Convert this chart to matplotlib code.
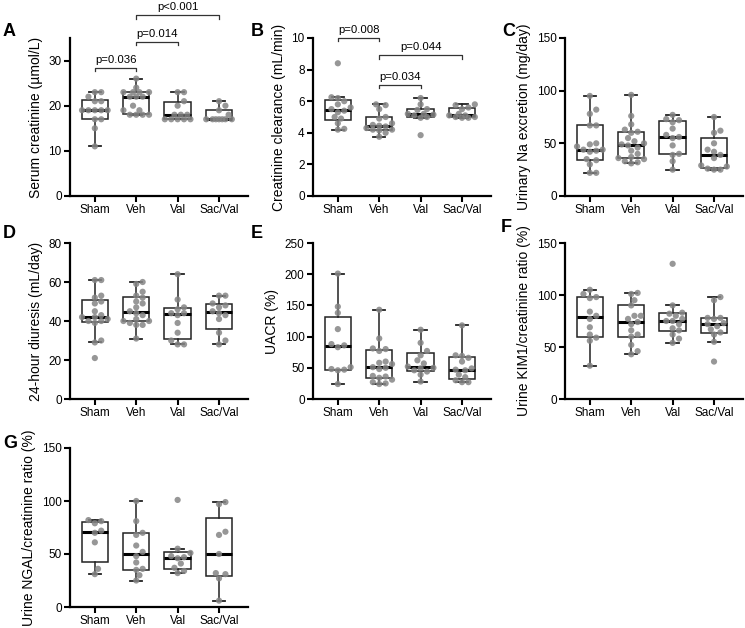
import numpy as np
import matplotlib
matplotlib.use('Agg')
import matplotlib.pyplot as plt

plt.rcParams['font.family'] = ['Liberation Sans', 'DejaVu Sans']

groups = ['Sham', 'Veh', 'Val', 'Sac/Val']

# A - serum creatinine (umol/L)
scr_sham = [23, 23, 22, 21, 21, 19, 19, 19, 19, 19, 17, 17, 15, 11]
scr_veh = [26, 24, 23, 23, 23, 23, 22, 22, 22, 20, 19, 19, 18, 18, 18, 18]
scr_val = [23, 23, 21, 20, 18, 18, 18, 17, 17, 17, 17, 17]
scr_sac = [21, 20, 19, 18, 17, 17, 17, 17, 17, 17, 17]

# B - creatinine clearance (mL/min)
ccl_sham = [8.4, 6.25, 6.2, 6.0, 5.8, 5.6, 5.5, 5.4, 5.3, 5.0, 4.9, 4.6, 4.25, 4.2]
ccl_veh = [5.8, 5.75, 5.5, 5.0, 4.9, 4.6, 4.5, 4.45, 4.4, 4.3, 4.2, 4.2, 4.15, 4.0, 3.75]
ccl_val = [6.2, 5.8, 5.5, 5.45, 5.2, 5.2, 5.15, 5.1, 5.0, 4.95, 3.85]
ccl_sac = [5.8, 5.75, 5.6, 5.5, 5.2, 5.1, 5.1, 5.0, 5.0, 4.95, 4.95]

# C - urinary Na excretion (mg/day)
na_sham = [95, 82, 78, 67, 67, 50, 49, 47, 44, 44, 43, 42, 35, 34, 30, 22, 22]
na_veh = [96, 76, 68, 63, 61, 60, 55, 52, 50, 49, 48, 46, 43, 40, 37, 36, 35, 33, 32, 31]
na_val = [77, 73, 72, 70, 64, 58, 56, 55, 48, 40, 39, 33, 25]
na_sac = [75, 62, 60, 50, 44, 42, 39, 36, 29, 28, 26, 25, 25]

# D - 24-hour diuresis (mL/day)
diu_sham = [61, 61, 53, 52, 50, 49, 45, 43, 42, 42, 41, 40, 40, 39, 30, 29, 21]
diu_veh = [60, 59, 55, 53, 52, 50, 49, 47, 45, 44, 43, 41, 40, 40, 39, 38, 38, 31]
diu_val = [64, 51, 47, 46, 44, 44, 43, 39, 34, 30, 28, 28]
diu_sac = [53, 53, 49, 48, 47, 45, 44, 43, 41, 34, 30, 28]

# E - UACR (%)
uacr_sham = [201, 148, 138, 112, 88, 86, 83, 51, 48, 47, 46, 24]
uacr_veh = [143, 97, 81, 80, 77, 60, 58, 56, 51, 50, 48, 37, 36, 34, 31, 27, 25, 24]
uacr_val = [111, 90, 77, 70, 62, 57, 52, 50, 49, 46, 44, 39, 28]
uacr_sac = [118, 70, 69, 66, 60, 49, 47, 46, 39, 35, 30, 27, 27]

# F - urine KIM1/creatinine ratio (%)
kim_sham = [105, 101, 98, 97, 84, 80, 77, 69, 62, 59, 56, 32]
kim_veh = [102, 101, 95, 90, 80, 80, 77, 74, 72, 66, 62, 60, 52, 46, 43]
kim_val = [130, 90, 83, 82, 80, 77, 75, 75, 72, 68, 66, 62, 58, 54]
kim_sac = [98, 95, 78, 78, 77, 73, 72, 70, 67, 64, 62, 55, 36]

# G - urine NGAL/creatinine ratio (%)
ngal_sham = [82, 81, 79, 72, 70, 61, 36, 31]
ngal_veh = [100, 81, 70, 68, 58, 52, 48, 42, 36, 35, 30, 25]
ngal_val = [101, 55, 51, 48, 47, 46, 41, 37, 34, 32]
ngal_sac = [99, 97, 71, 68, 50, 32, 31, 27, 6]

W, H = 745, 628
fig = plt.figure(figsize=(W / 100, H / 100), dpi=100)

col_left = [70, 313, 565]
col_w = 178
rows = [(38, 196), (243, 399), (448, 607)]
XLIM = (-0.6, 3.7)


def box_stats(v):
    v = np.sort(np.asarray(v, float))
    q1, med, q3 = np.percentile(v, [25, 50, 75], method='weibull')
    iqr = q3 - q1
    lo = v[v >= q1 - 1.5 * iqr].min()
    hi = v[v <= q3 + 1.5 * iqr].max()
    return dict(med=med, q1=q1, q3=q3, whislo=lo, whishi=hi, fliers=[])


def swarm(vals, xppu, yppu, dot=5.6, step=3.2, nmax=4):
    # simple beeswarm, kept inside the box width
    vals = np.asarray(vals, float)
    offs = np.zeros(len(vals))
    placed = []
    cands = [0.0]
    for j in range(1, nmax + 1):
        cands += [j * step, -j * step]
    for i in np.argsort(vals):
        y = vals[i] * yppu
        best, bestd = 0.0, -1
        for c in cands:
            dmin = min([np.hypot(c - px, y - py) for px, py in placed] or [99])
            if dmin >= dot:
                best = c
                break
            if dmin > bestd + 0.5:
                best, bestd = c, dmin
        placed.append((best, y))
        offs[i] = best / xppu
    return offs


def panel(col, row, data, ymax, yticks, ylabel):
    top, bot = rows[row]
    ax = fig.add_axes([col_left[col] / W, 1 - bot / H, col_w / W, (bot - top) / H])
    ax.set_xlim(*XLIM)
    ax.set_ylim(0, ymax)
    xppu = col_w / (XLIM[1] - XLIM[0])
    yppu = (bot - top) / ymax
    stats = [box_stats(d) for d in data]
    ax.bxp(stats, positions=range(4), widths=0.64, showfliers=False,
           patch_artist=True, capwidths=0.3,
           boxprops=dict(facecolor='white', edgecolor='#222222', linewidth=1.1),
           medianprops=dict(color='black', linewidth=2.2),
           whiskerprops=dict(color='#222222', linewidth=1.1),
           capprops=dict(color='#222222', linewidth=1.3), zorder=2)
    for i, d in enumerate(data):
        offs = swarm(d, xppu, yppu)
        ax.scatter(i + offs, d, s=20, color='#858585', alpha=0.85,
                   edgecolors='none', zorder=3, clip_on=False)
    ax.set_xticks(range(4))
    ax.set_xticklabels(groups)
    ax.set_yticks(yticks)
    for s in ['top', 'right']:
        ax.spines[s].set_visible(False)
    for s in ['left', 'bottom']:
        ax.spines[s].set_linewidth(1.6)
    ax.tick_params(direction='out', length=4, width=1.5, labelsize=8.5, pad=2)
    ax.set_ylabel(ylabel, fontsize=10, labelpad=4)
    ax.yppu = yppu
    return ax


def bracket(ax, x1, x2, y, txt):
    d = 3.2 / ax.yppu
    ax.plot([x1, x1, x2, x2], [y - d, y, y, y - d], color='#333333',
            lw=0.9, clip_on=False, zorder=4)
    ax.text((x1 + x2) / 2, y + 3 / ax.yppu, txt, ha='center', va='bottom',
            fontsize=8.2, clip_on=False)


axA = panel(0, 0, [scr_sham, scr_veh, scr_val, scr_sac], 35, [0, 10, 20, 30],
            'Serum creatinine (µmol/L)')
bracket(axA, 0, 1, 28.4, 'p=0.036')
bracket(axA, 1, 2, 34.1, 'p=0.014')
bracket(axA, 1, 3, 40.0, 'p<0.001')

axB = panel(1, 0, [ccl_sham, ccl_veh, ccl_val, ccl_sac], 10, [0, 2, 4, 6, 8, 10],
            'Creatinine clearance (mL/min)')
bracket(axB, 0, 1, 10.0, 'p=0.008')
bracket(axB, 1, 3, 8.9, 'p=0.044')
bracket(axB, 1, 2, 7.05, 'p=0.034')

panel(2, 0, [na_sham, na_veh, na_val, na_sac], 150, [0, 50, 100, 150],
      'Urinary Na excretion (mg/day)')
panel(0, 1, [diu_sham, diu_veh, diu_val, diu_sac], 80, [0, 20, 40, 60, 80],
      '24-hour diuresis (mL/day)')
panel(1, 1, [uacr_sham, uacr_veh, uacr_val, uacr_sac], 250, [0, 50, 100, 150, 200, 250],
      'UACR (%)')
panel(2, 1, [kim_sham, kim_veh, kim_val, kim_sac], 150, [0, 50, 100, 150],
      'Urine KIM1/creatinine ratio (%)')
panel(0, 2, [ngal_sham, ngal_veh, ngal_val, ngal_sac], 150, [0, 50, 100, 150],
      'Urine NGAL/creatinine ratio (%)')

letters = [('A', 3, 32), ('B', 251, 32), ('C', 502, 32), ('D', 3, 233),
           ('E', 251, 233), ('F', 501, 228), ('G', 3, 443)]
for lab, x, y in letters:
    fig.text(x / W, 1 - y / H, lab, fontsize=13, fontweight='bold',
             ha='left', va='center')

fig.savefig('out.png', dpi=100)
